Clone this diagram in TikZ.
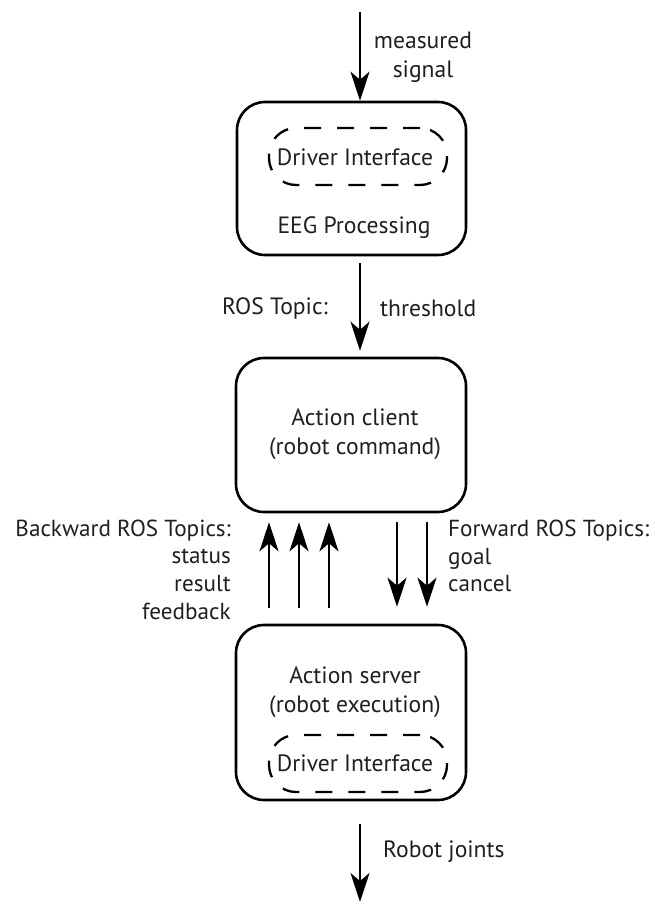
\documentclass[tikz,border=0pt]{standalone}
\usepackage{fontspec}
\setmainfont{PT Sans}
\usetikzlibrary{arrows.meta}
\tikzset{
  unit/.style={x=1pt,y=-1pt},
  lbl/.style={inner sep=0pt, font=\fontsize{23.6}{29}\selectfont, text=black!88},
  sidelbl/.style={lbl, font=\fontsize{23.2}{27.6}\selectfont},
  block/.style={draw, line width=2.6pt, rounded corners=28pt, inner sep=0pt},
  drvbox/.style={draw, line width=2.3pt, rounded corners=27pt, dash pattern=on 17pt off 16pt,
                 minimum width=178pt, minimum height=57pt, inner sep=0pt},
  arr/.style={line width=2.6pt, -{Stealth[length=29pt,width=19pt,inset=8pt]}},
}
\begin{document}
\begin{tikzpicture}[unit]
  \useasboundingbox (0,0) rectangle (654,909);

  % processing blocks
  \node[block, minimum width=229pt, minimum height=153pt] (eeg) at (351.5,178.5) {};
  \node[block, minimum width=230pt, minimum height=154pt] (client) at (351,435) {};
  \node[block, minimum width=230pt, minimum height=175pt] (server) at (351,712.5) {};

  % driver interfaces inside the first and last block
  \node[drvbox] (drv1) at (358,156.5) {};
  \node[lbl] (drv1t) at (355,157) {Driver Interface};
  \node[lbl] (eegt) at (354,228) {EEG Processing};

  \node[lbl, align=center] (clientt) at (355,434.5) {Action client\\(robot command)};
  \node[lbl, align=center] (servert) at (355,692.5) {Action server\\(robot execution)};

  \node[drvbox] (drv2) at (358,763.5) {};
  \node[lbl] (drv2t) at (355,763) {Driver Interface};

  % vertical reference lines for the connectors
  \coordinate (axis) at (360,0);
  \coordinate (b1) at (269,0);
  \coordinate (b2) at (299,0);
  \coordinate (b3) at (329,0);
  \coordinate (f1) at (397,0);
  \coordinate (f2) at (427,0);
  \coordinate (sig) at (360,12);
  \coordinate (joints) at (360,902);

  % signal chain
  \draw[arr] (sig) -- (eeg.north -| axis);
  \draw[arr, shorten <=7pt, shorten >=6pt] (eeg.south -| axis) -- (client.north -| axis);
  \foreach \c in {b1,b2,b3}
    \draw[arr, shorten <=16pt, shorten >=9pt] (server.north -| \c) -- (client.south -| \c);
  \foreach \c in {f1,f2}
    \draw[arr, shorten <=9pt, shorten >=17pt] (client.south -| \c) -- (server.north -| \c);
  \draw[arr, shorten <=23pt] (server.south -| axis) -- (joints);

  % connector labels
  \node[lbl, align=center] (sigl) at (423,57.5) {measured\\signal};
  \node[lbl, anchor=east] (rosl) at (328,308) {ROS Topic:};
  \node[lbl, anchor=west] (thrl) at (380,308) {threshold};
  \node[sidelbl, align=right, anchor=east] (backl) at (231,569.5)
    {Backward ROS Topics:\\status\\result\\feedback};
  \node[sidelbl, align=left, anchor=west] (fwdl) at (448,556)
    {Forward ROS Topics:\\goal\\cancel};
  \node[lbl, anchor=west] (jointl) at (383,852) {Robot joints};
\end{tikzpicture}
\end{document}
